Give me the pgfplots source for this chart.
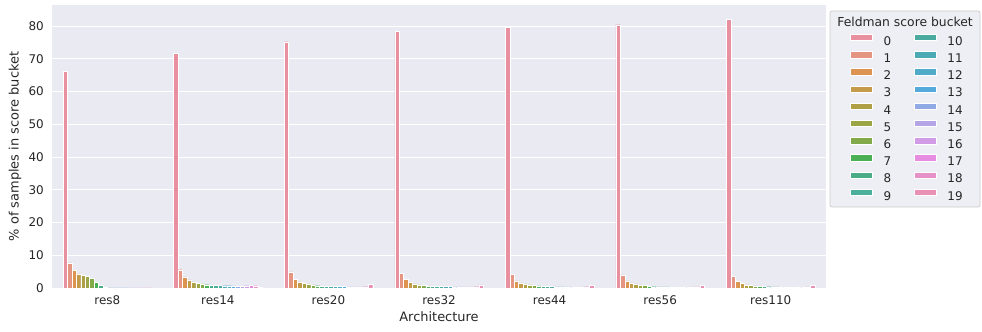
\documentclass[border=0pt]{standalone}
\usepackage{pgfplots}
\pgfplotsset{compat=1.18}
\usepackage{pgfplotstable}
\usepackage{fontspec}
\setmainfont{DejaVu Sans}
\definecolor{bgc}{HTML}{EAEAF2}
\definecolor{txt}{HTML}{262626}
\definecolor{legfill}{HTML}{EEEEF5}
\definecolor{legedge}{HTML}{CCCCCC}
\definecolor{c0}{HTML}{E890A0}
\definecolor{c1}{HTML}{E59682}
\definecolor{c2}{HTML}{DC9450}
\definecolor{c3}{HTML}{C39B4B}
\definecolor{c4}{HTML}{AFA046}
\definecolor{c5}{HTML}{9BA546}
\definecolor{c6}{HTML}{82AA4B}
\definecolor{c7}{HTML}{4BAF55}
\definecolor{c8}{HTML}{4BAC87}
\definecolor{c9}{HTML}{4BAF9B}
\definecolor{c10}{HTML}{4BAAA0}
\definecolor{c11}{HTML}{4BAAB4}
\definecolor{c12}{HTML}{50AAC8}
\definecolor{c13}{HTML}{55AADC}
\definecolor{c14}{HTML}{91AAE6}
\definecolor{c15}{HTML}{B4A5E6}
\definecolor{c16}{HTML}{D29BE6}
\definecolor{c17}{HTML}{E68CE1}
\definecolor{c18}{HTML}{E691C8}
\definecolor{c19}{HTML}{E891B4}
\pgfplotstableread{
x b0 b1 b2 b3 b4 b5 b6 b7 b8 b9 b10 b11 b12 b13 b14 b15 b16 b17 b18 b19
0 66.2 7.7 5.4 4.3 3.9 3.6 2.9 1.8 0.8 0.3 0.03 0.03 0.03 0.03 0.03 0.03 0.03 0.03 0.03 0.03
1 71.6 5.6 3.4 2.5 1.85 1.45 1.25 1.0 0.9 0.9 0.75 0.7 0.7 0.65 0.6 0.55 0.7 0.75 0.7 0.2
2 75.2 4.9 2.7 1.85 1.5 1.25 0.95 0.7 0.6 0.6 0.6 0.55 0.5 0.45 0.35 0.35 0.35 0.35 0.4 1.1
3 78.4 4.4 2.6 1.65 1.25 0.95 0.75 0.6 0.6 0.6 0.5 0.5 0.45 0.35 0.35 0.35 0.35 0.35 0.4 0.95
4 79.5 4.1 2.15 1.55 1.25 0.95 0.75 0.65 0.5 0.5 0.45 0.35 0.35 0.35 0.35 0.3 0.3 0.35 0.4 0.85
5 80.4 4.0 2.15 1.55 1.25 0.95 0.75 0.6 0.4 0.35 0.35 0.35 0.3 0.3 0.3 0.3 0.3 0.35 0.35 0.75
6 82.0 3.6 2.0 1.35 0.95 0.85 0.65 0.45 0.45 0.4 0.35 0.35 0.3 0.3 0.3 0.3 0.3 0.3 0.35 0.75
}\datatable
\pgfplotsset{
  mybar/.style={fill=#1, draw=white, line width=0.3bp,
    legend image code/.code={\filldraw[fill=#1, draw=white, line width=0.3bp] (0bp,0.75bp) rectangle (22bp,7.25bp);}},
}
\begin{document}
\begin{tikzpicture}
\begin{axis}[
  name=ax,
  scale only axis, width=774bp, height=283bp,
  xmin=-0.5, xmax=6.5, ymin=0, ymax=86.4,
  ybar, bar width=0.04,
  xtick={0,...,6},
  xticklabels={res8,res14,res20,res32,res44,res56,res110},
  ytick={0,10,...,80},
  axis background/.style={fill=bgc},
  axis line style={draw=none},
  major tick length=0pt,
  ymajorgrids, grid style={white, line width=0.9bp},
  clip=false,
  /pgf/number format/assume math mode=true,
  ticklabel style={font=\fontsize{12}{14}\selectfont, text=txt},
  xticklabel style={inner sep=0pt, anchor=north, yshift=-7.5bp},
  yticklabel style={inner sep=0pt, anchor=east, xshift=-8bp},
  xlabel={Architecture},
  ylabel={\% of samples in score bucket},
  every axis x label/.style={at={(rel axis cs:0.5,-0.1025)}, anchor=center, font=\fontsize{13}{15}\selectfont, text=txt},
  every axis y label/.style={at={(rel axis cs:-0.0478,0.5)}, rotate=90, anchor=center, font=\fontsize{13}{15}\selectfont, text=txt},
  legend columns=10, transpose legend, legend cell align=left,
  legend style={at={(rel axis cs:1.031,0.8985)}, anchor=north west, draw=none, fill=none, inner sep=0pt,
    font=\fontsize{12}{14}\selectfont, text=txt, row sep=5.8bp,
    nodes={inner sep=0pt, text height=8bp, text depth=0bp},
    /tikz/every odd column/.append style={column sep=11bp},
    /tikz/every even column/.append style={column sep=23bp}},
]
\addplot[mybar=c0, bar shift=-0.38] table[x=x,y=b0]{\datatable}; \addlegendentry{0}
\addplot[mybar=c1, bar shift=-0.34] table[x=x,y=b1]{\datatable}; \addlegendentry{1}
\addplot[mybar=c2, bar shift=-0.30] table[x=x,y=b2]{\datatable}; \addlegendentry{2}
\addplot[mybar=c3, bar shift=-0.26] table[x=x,y=b3]{\datatable}; \addlegendentry{3}
\addplot[mybar=c4, bar shift=-0.22] table[x=x,y=b4]{\datatable}; \addlegendentry{4}
\addplot[mybar=c5, bar shift=-0.18] table[x=x,y=b5]{\datatable}; \addlegendentry{5}
\addplot[mybar=c6, bar shift=-0.14] table[x=x,y=b6]{\datatable}; \addlegendentry{6}
\addplot[mybar=c7, bar shift=-0.10] table[x=x,y=b7]{\datatable}; \addlegendentry{7}
\addplot[mybar=c8, bar shift=-0.06] table[x=x,y=b8]{\datatable}; \addlegendentry{8}
\addplot[mybar=c9, bar shift=-0.02] table[x=x,y=b9]{\datatable}; \addlegendentry{9}
\addplot[mybar=c10, bar shift=0.02] table[x=x,y=b10]{\datatable}; \addlegendentry{10}
\addplot[mybar=c11, bar shift=0.06] table[x=x,y=b11]{\datatable}; \addlegendentry{11}
\addplot[mybar=c12, bar shift=0.10] table[x=x,y=b12]{\datatable}; \addlegendentry{12}
\addplot[mybar=c13, bar shift=0.14] table[x=x,y=b13]{\datatable}; \addlegendentry{13}
\addplot[mybar=c14, bar shift=0.18] table[x=x,y=b14]{\datatable}; \addlegendentry{14}
\addplot[mybar=c15, bar shift=0.22] table[x=x,y=b15]{\datatable}; \addlegendentry{15}
\addplot[mybar=c16, bar shift=0.26] table[x=x,y=b16]{\datatable}; \addlegendentry{16}
\addplot[mybar=c17, bar shift=0.30] table[x=x,y=b17]{\datatable}; \addlegendentry{17}
\addplot[mybar=c18, bar shift=0.34] table[x=x,y=b18]{\datatable}; \addlegendentry{18}
\addplot[mybar=c19, bar shift=0.38] table[x=x,y=b19]{\datatable}; \addlegendentry{19}
\draw[draw=legedge, fill=legfill, rounded corners=2bp, line width=0.7bp]
  (rel axis cs:1.00517,0.9788) rectangle (rel axis cs:1.199,0.2862);
\node[font=\fontsize{12.4}{14}\selectfont, text=txt] at (rel axis cs:1.1021,0.941) {Feldman score bucket};
\end{axis}
\pgfresetboundingbox
\path ([shift={(-52bp,-43bp)}]ax.south west) rectangle ([shift={(156bp,5bp)}]ax.north east);
\end{tikzpicture}
\end{document}
